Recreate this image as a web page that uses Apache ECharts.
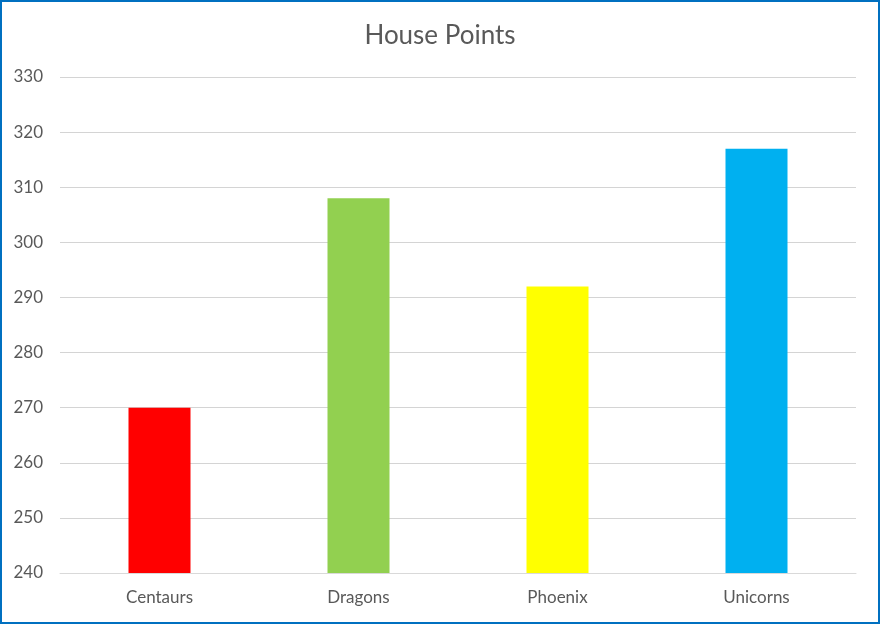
<!DOCTYPE html>
<html>
<head>
<meta charset="utf-8">
<script src="https://cdn.jsdelivr.net/npm/echarts@6/dist/echarts.min.js"></script>
<style>
  html, body { margin: 0; padding: 0; background: #fff; }
  #chart { width: 880px; height: 624px; }
</style>
</head>
<body>
<div id="chart"></div>
<script>
// House points per house
const houses = ['Centaurs', 'Dragons', 'Phoenix', 'Unicorns'];
const points = [270, 308, 292, 317];
const houseColors = ['#FF0000', '#92D050', '#FFFF00', '#00B0F0'];

const FONT = 'Lato';
const TEXT = '#595959';

const chart = echarts.init(document.getElementById('chart'));
chart.setOption({
  animation: false,
  backgroundColor: '#ffffff',
  title: {
    text: 'House Points',
    left: 'center',
    top: 18,
    textStyle: { fontFamily: FONT, fontSize: 26, fontWeight: 'normal', color: TEXT }
  },
  grid: { left: 60, right: 24, top: 77, bottom: 51 },
  xAxis: {
    type: 'category',
    data: houses,
    axisLine: { show: true, lineStyle: { color: '#D9D9D9', width: 1 } },
    axisTick: { show: false },
    axisLabel: { fontFamily: FONT, fontSize: 17, color: TEXT, margin: 16 }
  },
  yAxis: {
    type: 'value',
    min: 240,
    max: 330,
    interval: 10,
    axisLine: { show: false },
    axisTick: { show: false },
    splitLine: { lineStyle: { color: '#D4D4D4', width: 1 } },
    axisLabel: { fontFamily: FONT, fontSize: 17, color: TEXT, margin: 17 }
  },
  series: [{
    type: 'bar',
    data: points.map((v, i) => ({ value: v, itemStyle: { color: houseColors[i] } })),
    barWidth: 62
  }],
  graphic: [{
    type: 'rect',
    shape: { x: 1, y: 1, width: 878, height: 622 },
    style: { fill: 'none', stroke: '#0070C0', lineWidth: 2 },
    silent: true
  }]
});
</script>
</body>
</html>
